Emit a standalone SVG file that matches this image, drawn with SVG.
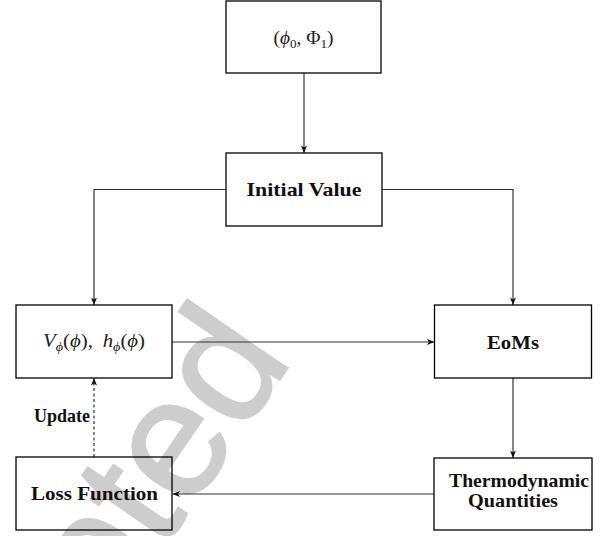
<svg xmlns="http://www.w3.org/2000/svg" width="608" height="536" viewBox="0 0 608 536">
<defs>
<style>
.box{fill:none;stroke:#000;stroke-width:1.3}
.bold{font-family:"Liberation Serif","Times New Roman",serif;font-weight:bold;font-size:19px;fill:#111;text-anchor:middle}
.math{font-family:"Liberation Serif","DejaVu Serif","Times New Roman",serif;font-size:19px;fill:#222;text-anchor:middle}
.it{font-style:italic}
.sub{font-size:13px}
.conn{fill:none;stroke:#333;stroke-width:1.2}
.dash{stroke-dasharray:3,2.5}
.wm{font-family:"Liberation Sans",Arial,sans-serif;font-size:168px;fill:#cdcdcd;stroke:#cdcdcd;stroke-width:2;text-anchor:end}
</style>
<marker id="arr" markerUnits="userSpaceOnUse" markerWidth="10" markerHeight="8" refX="7.5" refY="3" orient="auto">
<path d="M0,0 L7.5,3 L0,6 L2,3 z" fill="#111"/>
</marker>
</defs>
<rect width="608" height="536" fill="#fff"/>
<text class="wm" transform="translate(294,359) rotate(-55.5)">Accepted</text>
<g id="connectors">
<path class="conn" d="M304,73 V153" marker-end="url(#arr)"/>
<path class="conn" d="M226,189.5 H94 V305" marker-end="url(#arr)"/>
<path class="conn" d="M382,189.5 H513 V305" marker-end="url(#arr)"/>
<path class="conn" d="M172,342 H434.5" marker-end="url(#arr)"/>
<path class="conn" d="M513,378 V458" marker-end="url(#arr)"/>
<path class="conn" d="M434,494 H172.5" marker-end="url(#arr)"/>
<path class="conn dash" d="M94,457 V378" marker-end="url(#arr)"/>
<text class="bold" x="62" y="421.5" font-size="15.5" textLength="56" lengthAdjust="spacingAndGlyphs">Update</text>
</g>
<g id="node-init">
<rect class="box" x="226" y="1" width="155" height="72"/>
<text class="math" x="303.5" y="44" textLength="60" lengthAdjust="spacingAndGlyphs">(<tspan class="it">ϕ</tspan><tspan class="sub" dy="4">0</tspan><tspan dy="-4">, Φ</tspan><tspan class="sub" dy="4">1</tspan><tspan dy="-4">)</tspan></text>
</g>
<g id="node-initial-value">
<rect class="box" x="226" y="153" width="156" height="73"/>
<text class="bold" x="304" y="196" textLength="115" lengthAdjust="spacingAndGlyphs">Initial Value</text>
</g>
<g id="node-potential">
<rect class="box" x="16" y="305" width="156" height="73"/>
<text class="math" x="94" y="347" textLength="102" lengthAdjust="spacingAndGlyphs"><tspan class="it">V</tspan><tspan class="sub it" dy="4">ϕ</tspan><tspan dy="-4">(</tspan><tspan class="it">ϕ</tspan><tspan>),</tspan><tspan class="it" dx="9">h</tspan><tspan class="sub it" dy="4">ϕ</tspan><tspan dy="-4">(</tspan><tspan class="it">ϕ</tspan><tspan>)</tspan></text>
</g>
<g id="node-eoms">
<rect class="box" x="434.5" y="305" width="157" height="73"/>
<text class="bold" x="513" y="349" textLength="52" lengthAdjust="spacingAndGlyphs">EoMs</text>
</g>
<g id="node-thermo">
<rect class="box" x="434" y="458" width="158" height="72"/>
<text class="bold" x="519" y="487" textLength="140" lengthAdjust="spacingAndGlyphs">Thermodynamic</text>
<text class="bold" x="513" y="507" textLength="90" lengthAdjust="spacingAndGlyphs">Quantities</text>
</g>
<g id="node-loss">
<rect class="box" x="16" y="457" width="156" height="73"/>
<text class="bold" x="94.5" y="500" textLength="127" lengthAdjust="spacingAndGlyphs">Loss Function</text>
</g>
</svg>
